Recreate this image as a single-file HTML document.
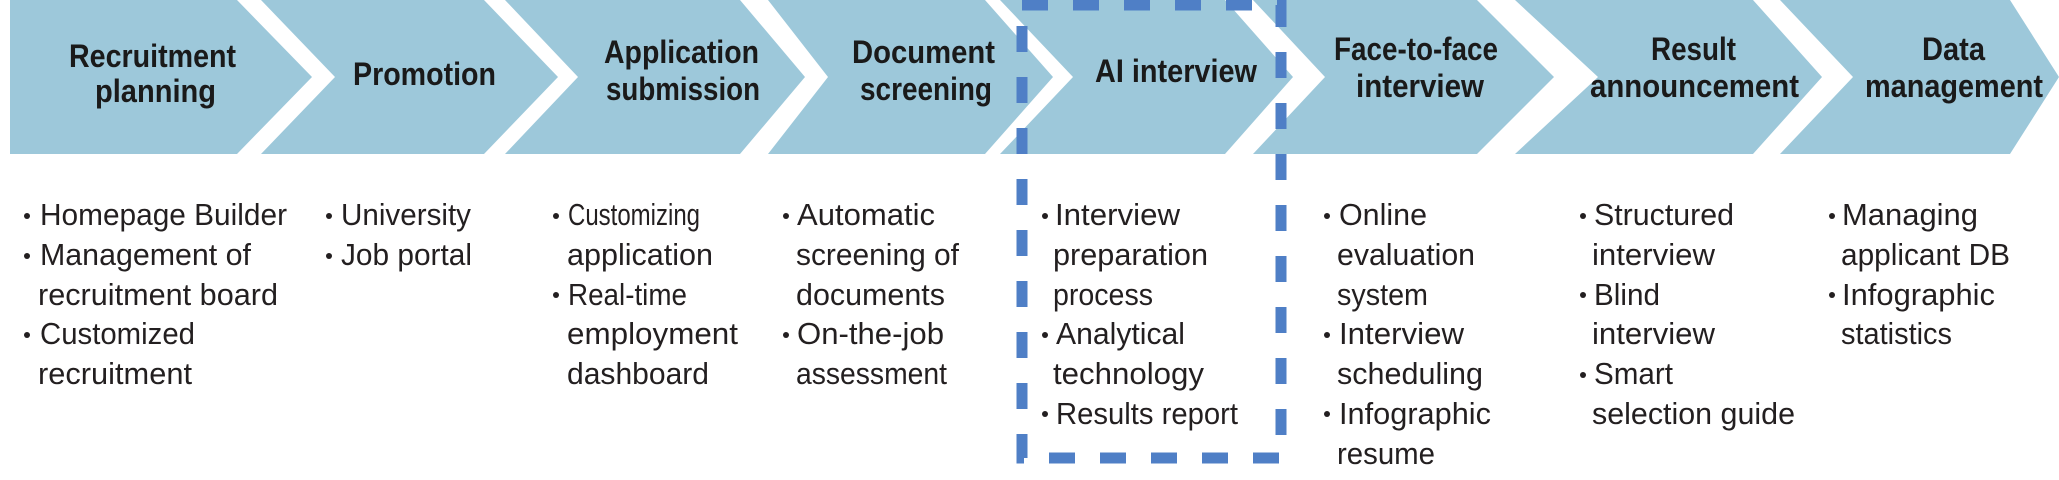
<!DOCTYPE html>
<html><head><meta charset="utf-8"><style>
html,body{margin:0;padding:0;background:#fff;}
svg{display:block;}
.t{font-family:"Liberation Sans",sans-serif;font-weight:bold;font-size:32px;fill:#1a1a1a;}
.b{font-family:"Liberation Sans",sans-serif;font-size:31px;fill:#231f20;}
</style></head><body>
<svg width="2059" height="480" viewBox="0 0 2059 480" xmlns="http://www.w3.org/2000/svg">
<g fill="#9dc8da">
<polygon points="10,0 237,0 312,77 237,154 10,154"/>
<polygon points="261,0 484,0 558,77 484,154 261,154 335,77"/>
<polygon points="505,0 740,0 805,77 740,154 505,154 578,77"/>
<polygon points="768,0 985,0 1053,77 985,154 768,154 828,77"/>
<polygon points="1000,0 1225,0 1293,77 1225,154 1000,154 1073,77"/>
<polygon points="1253,0 1477,0 1554,77 1477,154 1253,154 1325,77"/>
<polygon points="1515,0 1753,0 1822,77 1753,154 1515,154 1598,77"/>
<polygon points="1780,0 2010,0 2059,77 2010,154 1780,154 1853,77"/>
</g>
<g class="t" text-anchor="start">
<text x="69" y="67" textLength="167" lengthAdjust="spacingAndGlyphs">Recruitment</text>
<text x="95" y="102" textLength="121" lengthAdjust="spacingAndGlyphs">planning</text>
<text x="353" y="85" textLength="143" lengthAdjust="spacingAndGlyphs">Promotion</text>
<text x="604" y="63" textLength="155" lengthAdjust="spacingAndGlyphs">Application</text>
<text x="606" y="100" textLength="154" lengthAdjust="spacingAndGlyphs">submission</text>
<text x="852" y="63" textLength="143" lengthAdjust="spacingAndGlyphs">Document</text>
<text x="860" y="100" textLength="132" lengthAdjust="spacingAndGlyphs">screening</text>
<text x="1095" y="82" textLength="162" lengthAdjust="spacingAndGlyphs">AI interview</text>
<text x="1334" y="60" textLength="164" lengthAdjust="spacingAndGlyphs">Face-to-face</text>
<text x="1356" y="97" textLength="128" lengthAdjust="spacingAndGlyphs">interview</text>
<text x="1651" y="60" textLength="85" lengthAdjust="spacingAndGlyphs">Result</text>
<text x="1590" y="97" textLength="209" lengthAdjust="spacingAndGlyphs">announcement</text>
<text x="1922" y="60" textLength="63" lengthAdjust="spacingAndGlyphs">Data</text>
<text x="1865" y="97" textLength="178" lengthAdjust="spacingAndGlyphs">management</text>
</g>
<rect x="1022" y="5" width="259" height="453" fill="none" stroke="#4f7fc6" stroke-width="11" stroke-dasharray="26,25"/>
<g fill="#231f20">
<circle cx="27" cy="216" r="3"/><circle cx="27" cy="256" r="3"/><circle cx="27" cy="335" r="3"/>
<circle cx="329" cy="216" r="3"/><circle cx="329" cy="256" r="3"/>
<circle cx="556" cy="216" r="3"/><circle cx="556" cy="295" r="3"/>
<circle cx="786" cy="216" r="3"/><circle cx="786" cy="335" r="3"/>
<circle cx="1045" cy="216" r="3"/><circle cx="1045" cy="335" r="3"/><circle cx="1045" cy="414" r="3"/>
<circle cx="1327" cy="216" r="3"/><circle cx="1327" cy="335" r="3"/><circle cx="1327" cy="414" r="3"/>
<circle cx="1583" cy="216" r="3"/><circle cx="1583" cy="295" r="3"/><circle cx="1583" cy="375" r="3"/>
<circle cx="1832" cy="216" r="3"/><circle cx="1832" cy="295" r="3"/>
</g>
<g class="b">
<text x="40" y="225" textLength="247" lengthAdjust="spacingAndGlyphs">Homepage Builder</text>
<text x="40" y="265" textLength="211" lengthAdjust="spacingAndGlyphs">Management of</text>
<text x="38" y="305" textLength="240" lengthAdjust="spacingAndGlyphs">recruitment board</text>
<text x="40" y="344" textLength="155" lengthAdjust="spacingAndGlyphs">Customized</text>
<text x="38" y="384" textLength="154" lengthAdjust="spacingAndGlyphs">recruitment</text>

<text x="341" y="225" textLength="130" lengthAdjust="spacingAndGlyphs">University</text>
<text x="341" y="265" textLength="131" lengthAdjust="spacingAndGlyphs">Job portal</text>

<text x="568" y="225" textLength="132" lengthAdjust="spacingAndGlyphs">Customizing</text>
<text x="567" y="265" textLength="146" lengthAdjust="spacingAndGlyphs">application</text>
<text x="568" y="305" textLength="119" lengthAdjust="spacingAndGlyphs">Real-time</text>
<text x="567" y="344" textLength="171" lengthAdjust="spacingAndGlyphs">employment</text>
<text x="567" y="384" textLength="142" lengthAdjust="spacingAndGlyphs">dashboard</text>

<text x="797" y="225" textLength="138" lengthAdjust="spacingAndGlyphs">Automatic</text>
<text x="796" y="265" textLength="163" lengthAdjust="spacingAndGlyphs">screening of</text>
<text x="796" y="305" textLength="149" lengthAdjust="spacingAndGlyphs">documents</text>
<text x="797" y="344" textLength="147" lengthAdjust="spacingAndGlyphs">On-the-job</text>
<text x="796" y="384" textLength="151" lengthAdjust="spacingAndGlyphs">assessment</text>

<text x="1055" y="225" textLength="125" lengthAdjust="spacingAndGlyphs">Interview</text>
<text x="1053" y="265" textLength="155" lengthAdjust="spacingAndGlyphs">preparation</text>
<text x="1053" y="305" textLength="100" lengthAdjust="spacingAndGlyphs">process</text>
<text x="1056" y="344" textLength="129" lengthAdjust="spacingAndGlyphs">Analytical</text>
<text x="1053" y="384" textLength="151" lengthAdjust="spacingAndGlyphs">technology</text>
<text x="1056" y="424" textLength="182" lengthAdjust="spacingAndGlyphs">Results report</text>

<text x="1339" y="225" textLength="88" lengthAdjust="spacingAndGlyphs">Online</text>
<text x="1337" y="265" textLength="138" lengthAdjust="spacingAndGlyphs">evaluation</text>
<text x="1337" y="305" textLength="91" lengthAdjust="spacingAndGlyphs">system</text>
<text x="1339" y="344" textLength="125" lengthAdjust="spacingAndGlyphs">Interview</text>
<text x="1337" y="384" textLength="146" lengthAdjust="spacingAndGlyphs">scheduling</text>
<text x="1339" y="424" textLength="152" lengthAdjust="spacingAndGlyphs">Infographic</text>
<text x="1337" y="464" textLength="98" lengthAdjust="spacingAndGlyphs">resume</text>

<text x="1594" y="225" textLength="140" lengthAdjust="spacingAndGlyphs">Structured</text>
<text x="1592" y="265" textLength="123" lengthAdjust="spacingAndGlyphs">interview</text>
<text x="1594" y="305" textLength="66" lengthAdjust="spacingAndGlyphs">Blind</text>
<text x="1592" y="344" textLength="123" lengthAdjust="spacingAndGlyphs">interview</text>
<text x="1594" y="384" textLength="79" lengthAdjust="spacingAndGlyphs">Smart</text>
<text x="1592" y="424" textLength="203" lengthAdjust="spacingAndGlyphs">selection guide</text>

<text x="1842" y="225" textLength="136" lengthAdjust="spacingAndGlyphs">Managing</text>
<text x="1841" y="265" textLength="169" lengthAdjust="spacingAndGlyphs">applicant DB</text>
<text x="1842" y="305" textLength="153" lengthAdjust="spacingAndGlyphs">Infographic</text>
<text x="1841" y="344" textLength="111" lengthAdjust="spacingAndGlyphs">statistics</text>
</g>
</svg>
</body></html>
